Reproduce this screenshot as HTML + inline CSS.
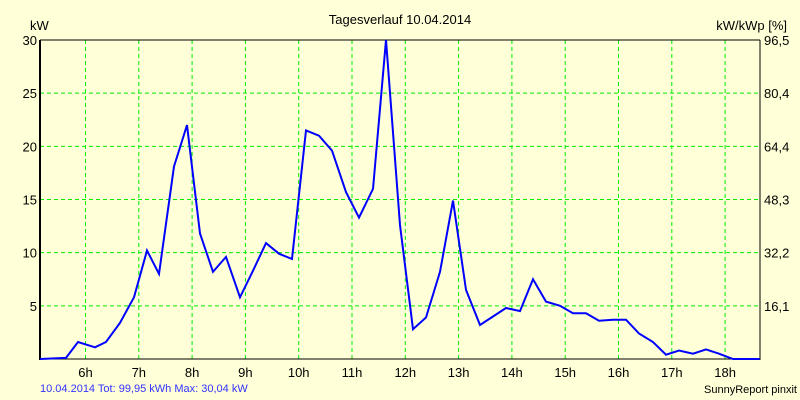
<!DOCTYPE html>
<html><head><meta charset="utf-8"><style>
body{margin:0;background:#ffffd8;}
svg{display:block;font-family:"Liberation Sans",sans-serif;}
</style></head><body>
<svg id="chart" width="800" height="400">
<rect x="0" y="0" width="800" height="400" fill="#ffffd8"/>
<text x="400" y="24" font-size="13" text-anchor="middle" fill="#000">Tagesverlauf 10.04.2014</text>
<text x="30" y="30" font-size="13" fill="#000">kW</text>
<text x="787" y="30" font-size="13" text-anchor="end" fill="#000">kW/kWp [%]</text>
<g id="grid"></g>
<g id="axes"></g>
<polyline id="line" fill="none" stroke="#0000ff" stroke-width="2"/>
<text x="40" y="392" font-size="11" fill="#3333ff">10.04.2014 Tot: 99,95 kWh Max: 30,04 kW</text>
<text x="797" y="393" font-size="11" text-anchor="end" fill="#000">SunnyReport pinxit</text>
</svg>
<script>
const times=[5.146,5.634,5.859,6.178,6.385,6.647,6.910,7.154,7.379,7.660,7.904,8.148,8.392,8.636,8.899,9.143,9.386,9.630,9.874,10.137,10.381,10.625,10.887,11.131,11.394,11.638,11.900,12.144,12.388,12.651,12.895,13.139,13.402,13.645,13.889,14.152,14.396,14.640,14.902,15.146,15.390,15.634,15.897,16.141,16.385,16.647,16.891,17.135,17.398,17.642,17.886,18.148,18.65];
const values=[0,0.1,1.6,1.1,1.6,3.4,5.8,10.2,8.0,18.1,22.0,11.8,8.2,9.6,5.8,8.3,10.9,9.9,9.4,21.5,21.0,19.6,15.7,13.3,16.0,30.0,12.6,2.8,3.9,8.2,14.9,6.5,3.2,4.0,4.8,4.5,7.5,5.4,5.0,4.3,4.3,3.6,3.7,3.7,2.4,1.6,0.4,0.8,0.5,0.9,0.5,0,0];
const leftTicks=[5,10,15,20,25,30];
const rightTickLabels=["16,1","32,2","48,3","64,4","80,4","96,5"];
const hourTicks=[6,7,8,9,10,11,12,13,14,15,16,17,18];
const X0=40,X1=760,Y0=359,Y1=40;
const xs=h=>85.5+(h-6)*53.3;
const ys=v=>Y0-(v/30)*(Y0-Y1);
const NS="http://www.w3.org/2000/svg";
const grid=document.getElementById('grid'),axes=document.getElementById('axes');
function mk(tag,attrs,parent){const e=document.createElementNS(NS,tag);for(const k in attrs)e.setAttribute(k,attrs[k]);parent.appendChild(e);return e;}
leftTicks.forEach((v,i)=>{
  const y=ys(v);
  const g=mk('line',{x1:X0,x2:X1,y1:y,y2:y,stroke:'#00ee00','stroke-width':1,'stroke-dasharray':'4,3'},grid);
  
  
  const t=mk('text',{x:37,y:y+5,'font-size':13,'text-anchor':'end',fill:'#000'},axes);t.textContent=v;
  
  
  const r=mk('text',{x:764,y:y+5,'font-size':13,fill:'#000'},axes);r.textContent=rightTickLabels[i];
  
  
});
hourTicks.forEach(h=>{
  const x=xs(h);
  const g=mk('line',{x1:x,x2:x,y1:Y1,y2:Y0,stroke:'#00ee00','stroke-width':1,'stroke-dasharray':'4,3'},grid);
  
  
  const t=mk('text',{x:x,y:377,'font-size':13,'text-anchor':'middle',fill:'#000'},axes);t.textContent=h+'h';
  
  
});
const la=mk('line',{x1:X0,x2:X0,y1:Y1,y2:Y0+1,stroke:'#000','stroke-width':2},axes);


const ra=mk('line',{x1:X1,x2:X1,y1:Y1,y2:Y0+1,stroke:'#000','stroke-width':1},axes);


const ba=mk('line',{x1:X0,x2:X1,y1:Y0,y2:Y0,stroke:'#000','stroke-width':1},axes);


const ta=mk('line',{x1:X0,x2:X1,y1:Y1,y2:Y1,stroke:'#000','stroke-width':1},axes);


document.getElementById('line').setAttribute('points',times.map((t,i)=>Math.max(X0,Math.min(X1,xs(t))).toFixed(1)+','+ys(values[i]).toFixed(1)).join(' '));
</script>
</body></html>
